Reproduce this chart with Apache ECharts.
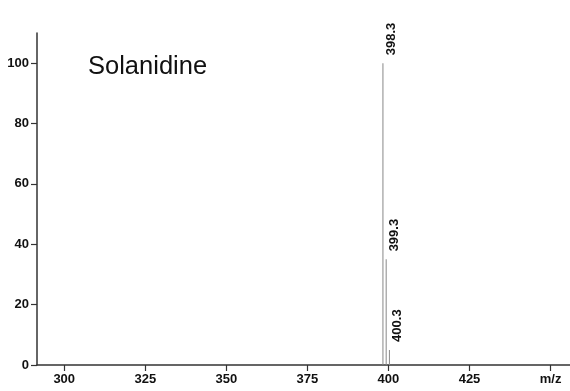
<!DOCTYPE html>
<html>
<head>
<meta charset="UTF-8">
<title></title>
<style>
  html, body { margin: 0; padding: 0; background: #fff; }
  #container { width: 570px; height: 391px; }
</style>
</head>
<body>
<div id="container"></div>
<script src="https://cdn.jsdelivr.net/npm/echarts@6/dist/echarts.min.js"></script>
<script>
  // peak positions (m/z) and relative intensities (%)
  var mzValues = [398.3, 399.3, 400.3];
  var intensities = [100, 35, 5];
  var labelledPeaks = ['398.3', '399.3', '400.3'];
  var xTicks = [300, 325, 350, 375, 400, 425, 450];
  var yTicks = [0, 20, 40, 60, 80, 100];
  var compoundName = 'Solanidine';

  var peaks = mzValues.map(function (mz, i) {
    return { value: [mz, intensities[i]], name: labelledPeaks[i] };
  });

  var labelFont = { color: '#111', fontFamily: 'Liberation Sans', fontWeight: 'bold', fontSize: 13 };

  var myChart = echarts.init(document.getElementById('container'));
  myChart.setOption({
    animation: false,
    backgroundColor: '#fff',
    title: {
      text: compoundName,
      left: 83,
      top: 49,
      textStyle: { fontFamily: 'Liberation Sans', fontSize: 25.5, fontWeight: 'normal', color: '#111' }
    },
    grid: { left: 37, right: 0, top: 33, bottom: 26 },
    xAxis: {
      type: 'value',
      min: 291.6,
      max: 456,
      splitLine: { show: false },
      axisLine: { lineStyle: { color: '#333', width: 1.5 } },
      axisTick: { show: true, length: 6, customValues: xTicks, lineStyle: { color: '#333', width: 1.2 } },
      axisLabel: Object.assign({
        margin: 8,
        customValues: xTicks,
        formatter: function (v) { return v === 450 ? 'm/z' : v; }
      }, labelFont)
    },
    yAxis: {
      type: 'value',
      min: 0,
      max: 110,
      splitLine: { show: false },
      axisLine: { show: true, lineStyle: { color: '#333', width: 1.5 } },
      axisTick: { show: true, length: 6, customValues: yTicks, lineStyle: { color: '#333', width: 1.2 } },
      axisLabel: Object.assign({ margin: 8, customValues: yTicks }, labelFont)
    },
    series: [{
      type: 'bar',
      barWidth: 1,
      data: peaks,
      itemStyle: { color: '#888' },
      label: Object.assign({
        show: true,
        position: 'top',
        rotate: 90,
        align: 'left',
        verticalAlign: 'middle',
        distance: 8,
        offset: [0, 8],
        formatter: function (p) { return p.name; }
      }, labelFont)
    }]
  });
</script>
</body>
</html>
